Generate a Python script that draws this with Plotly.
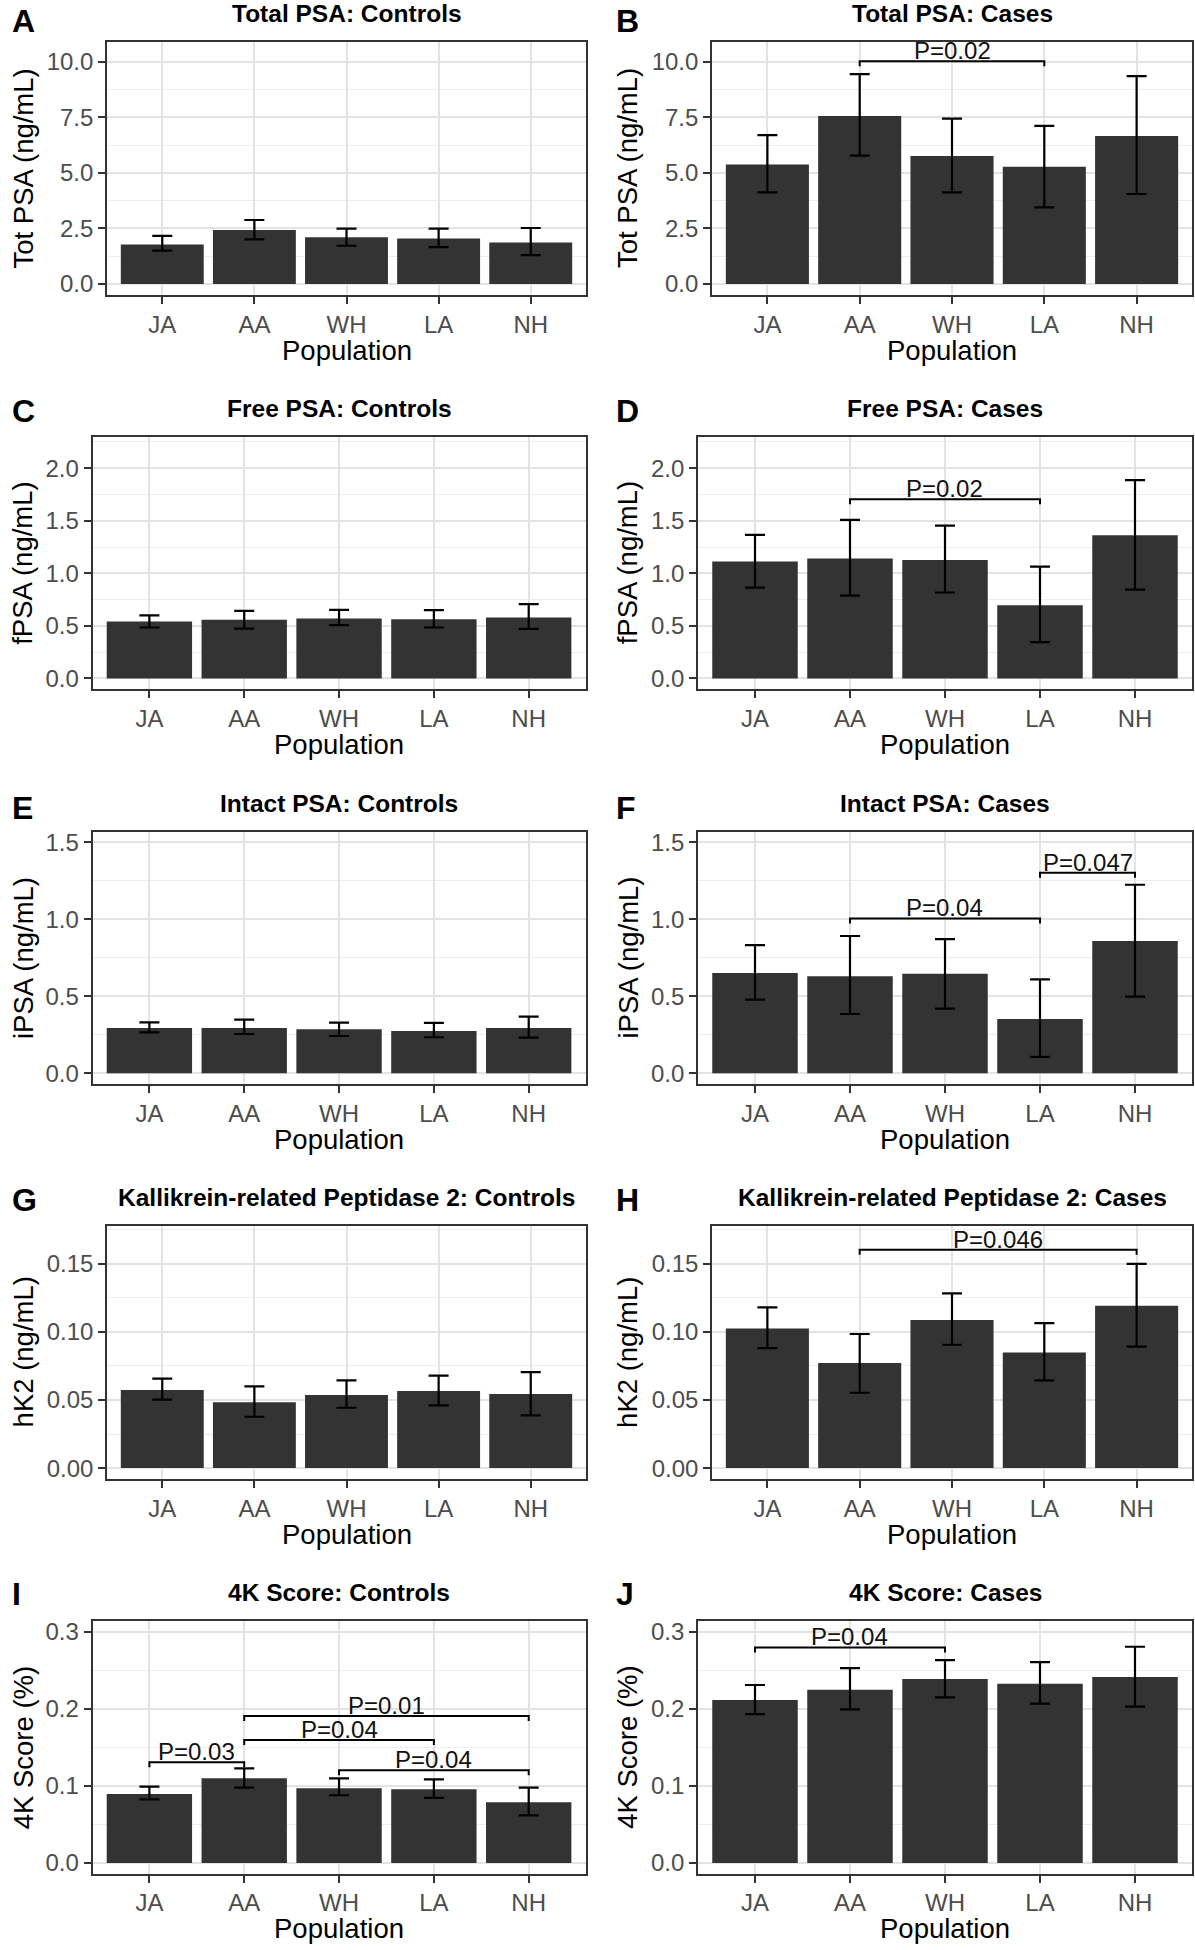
import plotly.graph_objects as go

populations = ["JA", "AA", "WH", "LA", "NH"]

# ---- data (mean, lower CI, upper CI) ----
tpsa_ctrl_mean = [1.78, 2.43, 2.10, 2.05, 1.87]
tpsa_ctrl_lo = [1.50, 2.01, 1.72, 1.66, 1.30]
tpsa_ctrl_hi = [2.16, 2.88, 2.49, 2.49, 2.52]

tpsa_case_mean = [5.38, 7.57, 5.76, 5.28, 6.67]
tpsa_case_lo = [4.12, 5.78, 4.12, 3.45, 4.05]
tpsa_case_hi = [6.70, 9.45, 7.45, 7.12, 9.36]

fpsa_ctrl_mean = [0.542, 0.558, 0.570, 0.564, 0.580]
fpsa_ctrl_lo = [0.485, 0.475, 0.507, 0.485, 0.472]
fpsa_ctrl_hi = [0.600, 0.643, 0.653, 0.650, 0.707]

fpsa_case_mean = [1.113, 1.141, 1.128, 0.697, 1.363]
fpsa_case_lo = [0.865, 0.789, 0.818, 0.345, 0.846]
fpsa_case_hi = [1.366, 1.509, 1.455, 1.065, 1.886]

ipsa_ctrl_mean = [0.294, 0.294, 0.286, 0.275, 0.294]
ipsa_ctrl_lo = [0.266, 0.255, 0.242, 0.234, 0.232]
ipsa_ctrl_hi = [0.331, 0.348, 0.329, 0.327, 0.368]

ipsa_case_mean = [0.652, 0.630, 0.647, 0.353, 0.859]
ipsa_case_lo = [0.478, 0.385, 0.420, 0.106, 0.498]
ipsa_case_hi = [0.833, 0.892, 0.872, 0.610, 1.225]

hk2_ctrl_mean = [0.0573, 0.0484, 0.0536, 0.0565, 0.0543]
hk2_ctrl_lo = [0.0502, 0.0377, 0.0443, 0.0460, 0.0387]
hk2_ctrl_hi = [0.0656, 0.0600, 0.0644, 0.0678, 0.0705]

hk2_case_mean = [0.1025, 0.0771, 0.1086, 0.0849, 0.1192]
hk2_case_lo = [0.0881, 0.0553, 0.0905, 0.0644, 0.0891]
hk2_case_hi = [0.1180, 0.0984, 0.1282, 0.1064, 0.1498]

k4_ctrl_mean = [0.0895, 0.1098, 0.0968, 0.0955, 0.0787]
k4_ctrl_lo = [0.0826, 0.0977, 0.0878, 0.0843, 0.0618]
k4_ctrl_hi = [0.0990, 0.1228, 0.1098, 0.1085, 0.0977]

k4_case_mean = [0.2114, 0.2248, 0.2387, 0.2326, 0.2412]
k4_case_lo = [0.1932, 0.1993, 0.2149, 0.2067, 0.2028]
k4_case_hi = [0.2309, 0.2529, 0.2633, 0.2607, 0.2806]

panel_letters = ["A", "B", "C", "D", "E", "F", "G", "H", "I", "J"]
panel_titles = ["Total PSA: Controls", "Total PSA: Cases",
                "Free PSA: Controls", "Free PSA: Cases",
                "Intact PSA: Controls", "Intact PSA: Cases",
                "Kallikrein-related Peptidase 2: Controls", "Kallikrein-related Peptidase 2: Cases",
                "4K Score: Controls", "4K Score: Cases"]
y_titles = ["Tot PSA (ng/mL)", "Tot PSA (ng/mL)", "fPSA (ng/mL)", "fPSA (ng/mL)",
            "iPSA (ng/mL)", "iPSA (ng/mL)", "hK2 (ng/mL)", "hK2 (ng/mL)",
            "4K Score (%)", "4K Score (%)"]
x_title = "Population"

# significance brackets: (from, to, height, label)
brackets_B = [("AA", "LA", 10.03, "P=0.02")]
brackets_D = [("AA", "LA", 1.705, "P=0.02")]
brackets_F = [("AA", "LA", 1.006, "P=0.04"), ("LA", "NH", 1.303, "P=0.047")]
brackets_H = [("AA", "NH", 0.1603, "P=0.046")]
brackets_I = [("JA", "AA", 0.1306, "P=0.03"), ("AA", "LA", 0.1595, "P=0.04"),
              ("AA", "NH", 0.1907, "P=0.01"), ("WH", "NH", 0.1202, "P=0.04")]
brackets_J = [("JA", "WH", 0.2797, "P=0.04")]

panels = [
    (tpsa_ctrl_mean, tpsa_ctrl_lo, tpsa_ctrl_hi, []),
    (tpsa_case_mean, tpsa_case_lo, tpsa_case_hi, brackets_B),
    (fpsa_ctrl_mean, fpsa_ctrl_lo, fpsa_ctrl_hi, []),
    (fpsa_case_mean, fpsa_case_lo, fpsa_case_hi, brackets_D),
    (ipsa_ctrl_mean, ipsa_ctrl_lo, ipsa_ctrl_hi, []),
    (ipsa_case_mean, ipsa_case_lo, ipsa_case_hi, brackets_F),
    (hk2_ctrl_mean, hk2_ctrl_lo, hk2_ctrl_hi, []),
    (hk2_case_mean, hk2_case_lo, hk2_case_hi, brackets_H),
    (k4_ctrl_mean, k4_ctrl_lo, k4_ctrl_hi, brackets_I),
    (k4_case_mean, k4_case_lo, k4_case_hi, brackets_J),
]

# ---- layout / styling ----
W, H = 1195, 1950
FONT = "Liberation Sans, Arial, Helvetica, sans-serif"
row_top = [42, 436.7, 831.7, 1225.5, 1621]
row_bot = [295, 689, 1084.3, 1479.3, 1873.7]
row_range = [[-0.5, 10.9], [-0.1, 2.3], [-0.072, 1.57], [-0.0082, 0.178], [-0.014, 0.314]]
row_dtick = [2.5, 0.5, 0.5, 0.05, 0.1]
row_fmt = [".1f", ".1f", ".1f", ".2f", ".1f"]
letter_off = [21, 25.5, 24, 25.5, 27]
# x pixel extents per panel
col_x = {
    0: (107.0, 586.0), 1: (712.0, 1192.0),
    2: (92.5, 585.6), 3: (698.0, 1192.0),
    4: (92.5, 585.6), 5: (698.0, 1192.0),
    6: (107.0, 586.0), 7: (712.0, 1192.0),
    8: (92.5, 585.6), 9: (698.0, 1192.0),
}
ytitle_x = [23, 627.5]
letter_x = [10, 614]


def px_x(v):
    return v / W


def px_y(v):
    return 1 - v / H


fig = go.Figure()
layout = dict(
    width=W, height=H, margin=dict(l=0, r=0, t=0, b=0),
    paper_bgcolor="white", plot_bgcolor="white",
    showlegend=False, font=dict(family=FONT, color="#000000"),
    bargap=0.1,
)
annotations = []

for i, (mean, lo, hi, brs) in enumerate(panels):
    row, col = i // 2, i % 2
    n = i + 1
    xa = "x" if n == 1 else f"x{n}"
    ya = "y" if n == 1 else f"y{n}"
    x0, x1 = col_x[i]
    top, bot = row_top[row], row_bot[row]
    rng = row_range[row]

    fig.add_trace(go.Bar(
        x=populations, y=mean, width=0.9,
        marker=dict(color="#333333", line=dict(width=0)),
        error_y=dict(type="data", symmetric=False,
                     array=[h - m for h, m in zip(hi, mean)],
                     arrayminus=[m - l for m, l in zip(mean, lo)],
                     color="#000000", thickness=2.2, width=10),
        xaxis=xa, yaxis=ya, hoverinfo="skip",
    ))

    # significance brackets
    drop = 5 * (rng[1] - rng[0]) / (bot - top)
    for (a, b, yb, lab) in brs:
        fig.add_trace(go.Scatter(
            x=[a, a, b, b], y=[yb - drop, yb, yb, yb - drop],
            mode="lines", line=dict(color="#000000", width=2),
            xaxis=xa, yaxis=ya, hoverinfo="skip",
        ))
        ia, ib = populations.index(a), populations.index(b)
        annotations.append(dict(
            x=(ia + ib) / 2, y=yb, xref=xa, yref=ya, text=lab, showarrow=False,
            xanchor="center", yanchor="bottom", yshift=-5,
            font=dict(family=FONT, size=24, color="#111111"),
        ))

    axkey = "xaxis" if n == 1 else f"xaxis{n}"
    aykey = "yaxis" if n == 1 else f"yaxis{n}"
    layout[axkey] = dict(
        domain=[px_x(x0), px_x(x1)], anchor=ya, type="category",
        range=[-0.6, 4.6], showgrid=True, gridcolor="#E3E3E3", gridwidth=2,
        showline=True, mirror=True, linecolor="#333333", linewidth=1.6,
        ticks="outside", ticklen=7, tickwidth=1.6, tickcolor="#333333",
        tickfont=dict(family=FONT, size=24, color="#4D4D4D"),
        zeroline=False, fixedrange=True, automargin=False,
    )
    layout[aykey] = dict(
        domain=[px_y(bot), px_y(top)], anchor=xa, range=rng,
        tick0=0, dtick=row_dtick[row], tickformat=row_fmt[row],
        showgrid=True, gridcolor="#E3E3E3", gridwidth=2,
        minor=dict(dtick=row_dtick[row] / 2, tick0=0, showgrid=True,
                   gridcolor="#EDEDED", gridwidth=1, ticks=""),
        showline=True, mirror=True, linecolor="#333333", linewidth=1.6,
        ticks="outside", ticklen=7, tickwidth=1.6, tickcolor="#333333",
        tickfont=dict(family=FONT, size=24, color="#4D4D4D"),
        zeroline=False, fixedrange=True, automargin=False,
    )

    # panel title
    annotations.append(dict(
        x=px_x((x0 + x1) / 2), y=px_y(top - 28.5), xref="paper", yref="paper",
        text=f"<b>{panel_titles[i]}</b>", showarrow=False,
        xanchor="center", yanchor="middle",
        font=dict(family=FONT, size=24.5, color="#000000"),
    ))
    # panel letter
    annotations.append(dict(
        x=px_x(letter_x[col]), y=px_y(top - letter_off[row]), xref="paper", yref="paper",
        text=f"<b>{panel_letters[i]}</b>", showarrow=False,
        xanchor="left", yanchor="middle",
        font=dict(family=FONT, size=32, color="#000000"),
    ))
    # x title
    annotations.append(dict(
        x=px_x((x0 + x1) / 2), y=px_y(bot + 55), xref="paper", yref="paper",
        text=x_title, showarrow=False, xanchor="center", yanchor="middle",
        font=dict(family=FONT, size=27.5, color="#000000"),
    ))
    # y title
    annotations.append(dict(
        x=px_x(ytitle_x[col]), y=px_y((top + bot) / 2), xref="paper", yref="paper",
        text=y_titles[i], showarrow=False, textangle=-90,
        xanchor="center", yanchor="middle",
        font=dict(family=FONT, size=27.5, color="#000000"),
    ))

layout["annotations"] = annotations
fig.update_layout(**layout)
fig.write_html("out.html", config={"displayModeBar": False},
               post_script="document.body.style.margin='0';document.body.style.padding='0';")
